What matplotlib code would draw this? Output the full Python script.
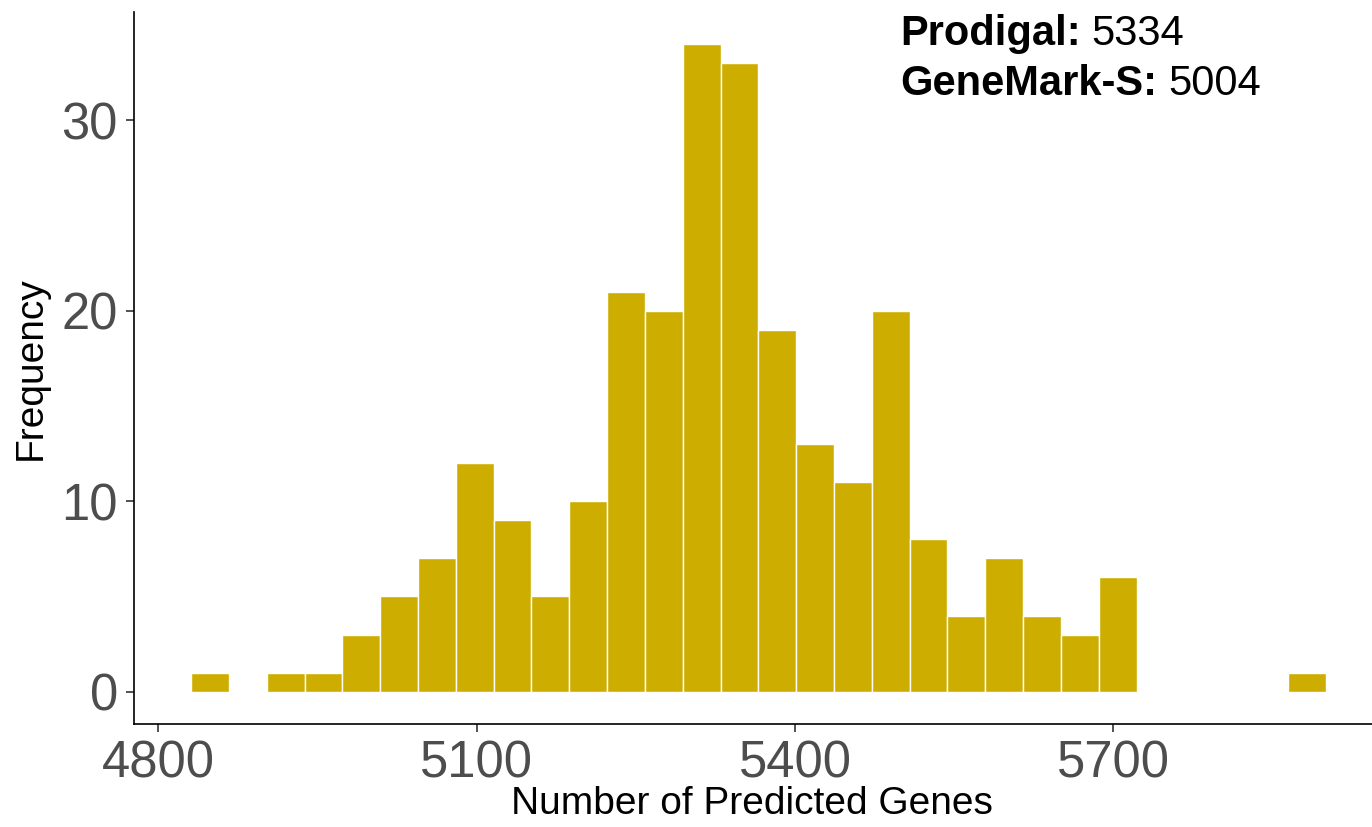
import matplotlib.pyplot as plt

plt.rcParams['font.family'] = ['Liberation Sans', 'DejaVu Sans']

# histogram counts (30 bins)
counts = [1, 0, 1, 1, 3, 5, 7, 12, 9, 5, 10, 21, 20, 34, 33,
          19, 13, 11, 20, 8, 4, 7, 4, 3, 6, 0, 0, 0, 0, 1]
x_min, x_max = 4849, 5882      # centres of first and last bin
x_ticks = [4800, 5100, 5400, 5700]
y_ticks = [0, 10, 20, 30]
tools = ['Prodigal:', 'GeneMark-S:']
tool_values = [5334, 5004]

n = len(counts)
width = (x_max - x_min) / (n - 1)
centres = [x_min + i * width for i in range(n)]

fig = plt.figure(figsize=(13.72, 8.27), dpi=100)
ax = fig.add_axes([0.098, 0.1244, 0.9095, 0.8615])

ax.bar(centres, counts, width=width, color='#CDAD00',
       edgecolor='white', linewidth=1.0)

# ggplot style expansion (5% each side)
lo, hi = x_min - width / 2, x_max + width / 2
ax.set_xlim(lo - 0.05 * (hi - lo), hi + 0.05 * (hi - lo))
top = max(counts)
ax.set_ylim(-0.05 * top, 1.05 * top)

ax.set_xticks(x_ticks)
ax.set_yticks(y_ticks)
for s in ['top', 'right']:
    ax.spines[s].set_visible(False)
for s in ['left', 'bottom']:
    ax.spines[s].set_color('black')
    ax.spines[s].set_linewidth(1.2)
ax.tick_params(length=6, width=1.2, color='#333333', labelsize=36.5,
               labelcolor='#4D4D4D', pad=5)
ax.tick_params(axis='y', pad=6)

ax.set_xlabel('Number of Predicted Genes', fontsize=28, labelpad=-2)
ax.xaxis.label.set_x(0.495)
ax.set_ylabel('Frequency', fontsize=28, labelpad=9)

# bold name + plain value
baselines = [45, 95]   # pixels from top
for name, val, yb in zip(tools, tool_values, baselines):
    t = fig.text(900 / 1372, 1 - yb / 827, name, fontsize=30,
                 fontweight='bold', va='baseline', ha='left')
    ax.annotate(str(val), xy=(1, 0), xycoords=t, xytext=(8, 0),
                textcoords='offset points', fontsize=30,
                va='bottom', ha='left', annotation_clip=False)

fig.savefig('out.png', dpi=100)
